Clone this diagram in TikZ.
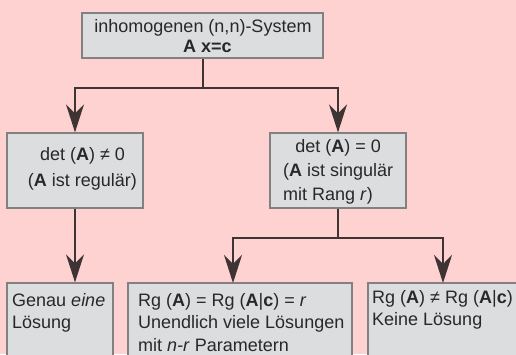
\documentclass[tikz,border=0pt]{standalone}
\usepackage{fontspec}
\setmainfont{Liberation Sans}
\usetikzlibrary{arrows.meta}
\definecolor{bgc}{RGB}{255,210,210}
\definecolor{boxfill}{RGB}{220,221,223}
\definecolor{boxline}{RGB}{130,128,128}
\definecolor{linec}{RGB}{62,52,52}
\definecolor{txtc}{RGB}{40,40,40}
\newcommand{\mlines}[2]{\begin{tabular}[t]{@{}#1@{}}#2\end{tabular}}
\begin{document}
\begin{tikzpicture}[x=1pt,y=-1pt,
  box/.style={draw=boxline, fill=boxfill, line width=1.3pt, inner sep=0pt, rectangle},
  conn/.style={draw=linec, line width=2pt},
  arr/.style={conn, -{Stealth[length=28pt,width=18pt,inset=9pt]}},
  txt/.style={inner sep=0pt, text=txtc, font=\fontsize{18}{22.5}\selectfont}]
\useasboundingbox (0,0) rectangle (516,354);
\fill[bgc] (0,0) rectangle (516,354);
\clip (0,0) rectangle (516,354);
% boxes
\node[box, minimum width=241, minimum height=45] (top) at (202.5,35.5) {};
\node[box, minimum width=136, minimum height=75] (lm) at (75,170.5) {};
\node[box, minimum width=136, minimum height=75] (rm) at (338,170.5) {};
\node[box, minimum width=106, minimum height=87] (bl) at (60,326.5) {};
\node[box, minimum width=224, minimum height=87] (bm) at (240,326.5) {};
\node[box, minimum width=162, minimum height=87] (br) at (449,326.5) {};
% texts
\node[txt, font=\fontsize{18}{20}\selectfont, anchor=base] (ttop) at (203,32)
  {\mlines{c}{inhomogenen (n,n)-System\\ \hspace*{9pt}\textbf{A x=c}}};
\node[txt, font=\fontsize{18}{26}\selectfont, anchor=base] (tlm) at (82.5,160.5)
  {\mlines{c}{det (\textbf{A}) ≠ 0\\ (\textbf{A} ist regulär)}};
\node[txt, font=\fontsize{18}{24}\selectfont, anchor=base west] (trm) at (283,152)
  {\mlines{l}{\makebox[110pt]{det (\textbf{A}) = 0}\\ (\textbf{A} ist singulär\\ mit Rang \textit{r})}};
\node[txt, anchor=base west] (tbl) at (12,306)
  {\mlines{l}{Genau \textit{eine}\\ Lösung}};
\node[txt, anchor=base west] (tbm) at (138,306)
  {\mlines{l}{Rg (\textbf{A}) = Rg (\textbf{A}|\textbf{c}) = \textit{r}\\ Unendlich viele Lösungen\\ mit \textit{n-r} Parametern}};
\node[txt, anchor=base west] (tbr) at (372,303)
  {\mlines{l}{Rg (\textbf{A}) ≠ Rg (\textbf{A}|\textbf{c})\\ Keine Lösung}};
% connectors
\draw[conn] (top.south) -- ++(0,29) coordinate (j1);
\draw[arr] (j1) -| (lm.north);
\draw[arr] (j1) -| (rm.north);
\draw[arr] (lm.south) -- (lm.south |- bl.north);
\draw[conn] (rm.south) -- ++(0,29) coordinate (j2);
\coordinate (bmT) at (233,283);
\coordinate (brT) at (443,283);
\draw[arr] (j2) -| (bmT);
\draw[arr] (j2) -| (brT);
\end{tikzpicture}
\end{document}
